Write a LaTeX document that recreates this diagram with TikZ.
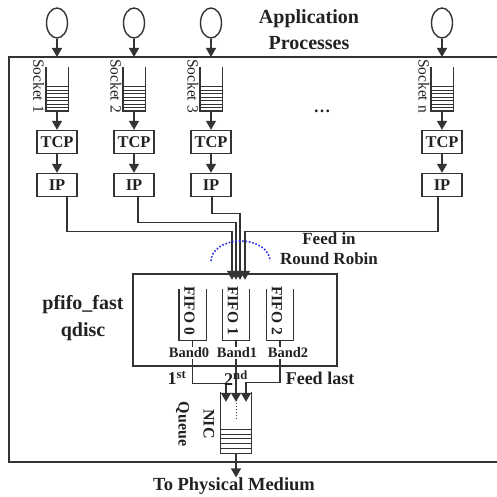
\documentclass[tikz,border=0pt]{standalone}
\usepackage{fontspec}
\setmainfont{Liberation Serif}
\usetikzlibrary{arrows.meta,positioning,shapes.geometric}
\definecolor{ink}  {HTML}{222222}
\definecolor{wire} {HTML}{333333}
\definecolor{robin}{HTML}{2B2BE6}
\newcommand{\fsz}[2]{\fontsize{#1}{#2}\selectfont}
\tikzset{
  wirebox/.style={draw=wire, line width=1.4pt},
  proc/.style={wirebox, ellipse, minimum width=21pt, minimum height=30pt, inner sep=0pt},
  stackbox/.style={wirebox, minimum width=40pt, minimum height=23pt, inner sep=0pt, text=ink, font=\fsz{16.5}{18}\bfseries},
  sockq/.style={minimum width=22pt, minimum height=44pt, inner sep=0pt},
  fifoq/.style={minimum width=27pt, minimum height=51pt, inner sep=0pt},
  flow/.style={draw=wire, line width=1.4pt, -{Triangle[length=9pt,width=10pt]}},
  vtext/.style={rotate=-90, text=ink, inner sep=0pt},
  lbl/.style={text=ink, inner sep=0pt, font=\fsz{17}{20}\bfseries, align=center}
}
\begin{document}
\begin{tikzpicture}[x=1pt, y=-1pt]
  \useasboundingbox (0,0) rectangle (497,497);
  % host frame
  \draw[draw=wire, line width=1.8pt] (497,57) -- (9,57) -- (9,462) -- (497,462);
  \node[lbl, font=\fsz{20}{26}\bfseries] (apps) at (309,30) {Application\\Processes};
  \node[lbl] (more) at (322,111) {\dots};
  % one column per socket
  \foreach \n/\x in {1/57, 2/134, 3/211, n/442} {
    \node[proc] (app\n) at (\x,23) {};
    \coordinate (in\n) at (\x,57);
    \draw[flow] (app\n) -- (in\n);
    \node[sockq] (sock\n) at (\x,89) {};
    \draw[wirebox] (sock\n.north west) -- (sock\n.south west) -- (sock\n.south east) -- (sock\n.north east);
    \foreach \k in {1,...,7}
      \draw[wire, line width=1pt] ([yshift=\k*3.5pt]sock\n.south west) -- ([yshift=\k*3.5pt]sock\n.south east);
    \node[vtext, font=\fsz{15.5}{15.5}] (sname\n) at ([xshift=-7pt,yshift=3pt]sock\n.west) {Socket \n};
    \node[stackbox] (tcp\n) at (\x,142) {TCP};
    \node[stackbox] (ip\n) at (\x,185) {IP};
    \draw[flow] (sock\n) -- (tcp\n);
    \draw[flow] (tcp\n) -- (ip\n);
  }
  % pfifo_fast qdisc
  \node[wirebox, minimum width=204pt, minimum height=92pt] (qdisc) at (235,320) {};
  \node[lbl, font=\fsz{20}{27}\bfseries] (qname) at (83,318) {pfifo\_fast\\qdisc};
  \foreach \q/\x in {0/192.5, 1/236, 2/280} {
    \node[fifoq] (fifo\q) at (\x,314.5) {};
    \draw[wirebox] (fifo\q.north west) -- (fifo\q.south west) -- (fifo\q.south east) -- (fifo\q.north east);
    \node[vtext, font=\fsz{15.5}{15.5}\bfseries] (fname\q) at ([xshift=-3pt,yshift=4pt]fifo\q) {FIFO \q};
  }
  % round robin feed
  \draw[flow] ([xshift=10pt]ip1.south) -- ++(0,34) -| ([xshift=-4pt,yshift=9pt]fifo1.north);
  \draw[flow] ([xshift=4pt]ip2.south) -- ++(0,25) -| ([yshift=9pt]fifo1.north);
  \draw[flow] ([xshift=1pt]ip3.south) -- ++(0,16) -| ([xshift=4pt,yshift=9pt]fifo1.north);
  \draw[flow] ([xshift=-4pt]ipn.south) -- ++(0,34) -| ([xshift=9pt,yshift=9pt]fifo1.north);
  \draw[robin, line width=1.6pt, dash pattern=on 1.6pt off 1.8pt]
    (211,261) arc[start angle=180, end angle=0, x radius=29.5pt, y radius=20pt];
  \node[lbl] (rrname) at (329,249) {Feed in\\Round Robin};
  % NIC queue
  \node[minimum width=31pt, minimum height=61pt, inner sep=0pt] (nic) at (236,422.5) {};
  \draw[wirebox] (nic.north west) -- (nic.south west) -- (nic.south east) -- (nic.north east);
  \foreach \k in {1,...,5}
    \draw[wire, line width=1pt] ([yshift=\k*4.8pt]nic.south west) -- ([yshift=\k*4.8pt]nic.south east);
  \draw[wire, line width=1pt, dotted] ([yshift=-8pt]nic.north) -- ([yshift=-28pt]nic.north);
  \draw[flow] (fifo0.south) -- ++(0,43) -| ([xshift=-10pt,yshift=-10pt]nic.north);
  \draw[flow] (fifo1.south) -- ([yshift=-10pt]nic.north);
  \draw[flow] (fifo2.south) -- ++(0,42) -| ([xshift=10pt,yshift=-10pt]nic.north);
  \foreach \q/\x in {0/189, 1/237, 2/288}
    \node[lbl, font=\fsz{14.5}{14.5}\bfseries, fill=white, inner sep=0.5pt] (band\q) at (\x,353) {Band\q};
  \node[lbl, font=\fsz{18}{18}\bfseries] (first) at (177,378) {1\textsuperscript{st}};
  \node[lbl, font=\fsz{18}{18}\bfseries] (second) at (236,378) {2\textsuperscript{nd}};
  \node[lbl, font=\fsz{18}{18}\bfseries] (feedlast) at (320,378) {Feed last};
  \node[vtext, align=center, font=\fsz{16}{25}\bfseries] (nicname) at (195,424) {NIC\\Queue};
  \node[lbl, font=\fsz{18.5}{18.5}\bfseries] (medium) at (234,486) {To Physical Medium};
  \draw[flow] (nic.south) -- (nic.south |- medium.north);
\end{tikzpicture}
\end{document}
